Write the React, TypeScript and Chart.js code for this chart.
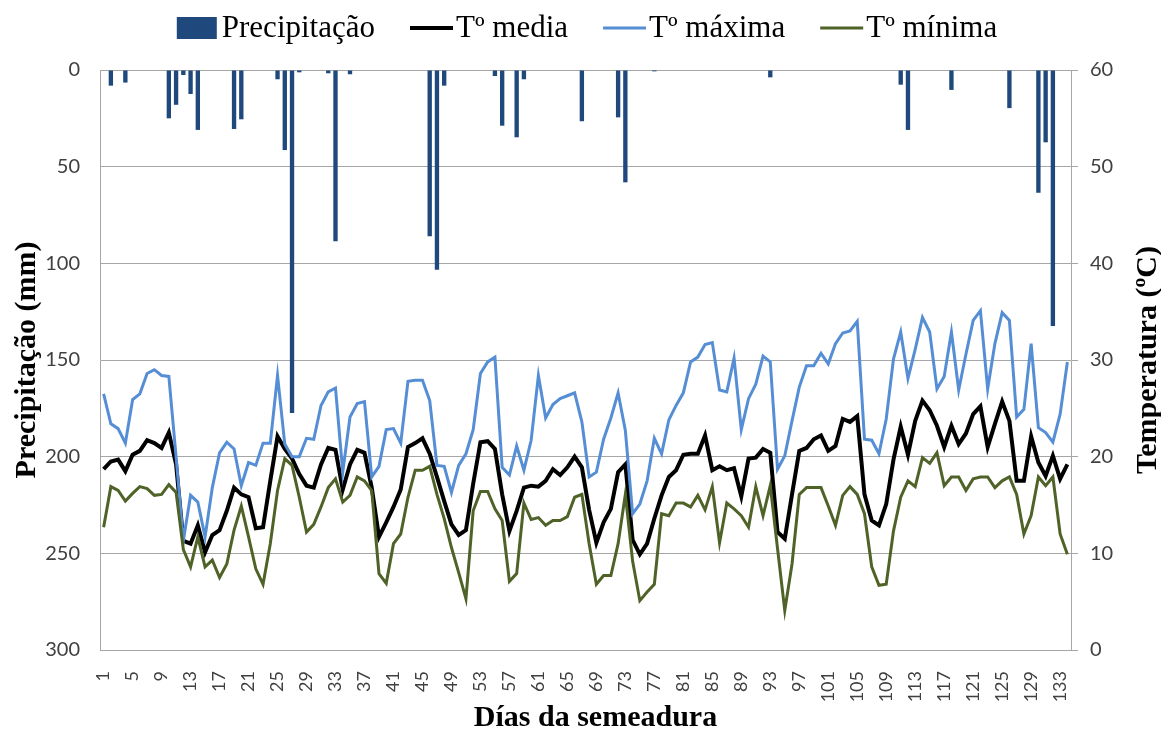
import React, { useEffect, useRef } from "react";
import { Chart, registerables } from "chart.js";

Chart.register(...registerables);

// Category labels: days after sowing (1..134)
const days: string[] = Array.from({ length: 134 }, (_, i) => String(i + 1));

// Precipitation (mm), one value per day
const precipitation: number[] = [
  0, 8.1, 0, 6.5, 0, 0, 0, 0, 0, 25,
  18, 2.6, 12.4, 31, 0, 0, 0, 0, 30.5, 25.5,
  0, 0, 0, 0, 4.8, 41.4, 177.4, 1.2, 0, 0,
  0, 1.7, 88.6, 0, 2.2, 0, 0, 0, 0, 0,
  0, 0, 0, 0, 0, 86, 103.3, 8.1, 0, 0,
  0, 0, 0, 0, 3.1, 28.8, 0, 34.8, 4.8, 0,
  0, 0, 0, 0, 0, 0, 26.5, 0, 0, 0,
  0, 24.5, 58.1, 0, 0, 0, 0.7, 0, 0, 0,
  0, 0, 0, 0, 0, 0, 0, 0, 0, 0,
  0, 0, 3.8, 0, 0, 0, 0, 0, 0, 0,
  0, 0, 0, 0, 0, 0, 0, 0, 0, 0,
  7.6, 31, 0, 0, 0, 0, 0, 10.3, 0, 0,
  0, 0, 0, 0, 0, 19.7, 0, 0, 0, 63.5,
  37.4, 132.4, 0, 0,
];

// Mean temperature (°C)
const tMedia: number[] = [
  18.7, 19.5, 19.7, 18.5, 20.2, 20.6, 21.7, 21.4, 20.9, 22.5,
  19.2, 11.3, 11.0, 12.9, 10.1, 11.9, 12.4, 14.4, 16.8, 16.1,
  15.8, 12.6, 12.7, 17.5, 22.1, 20.8, 19.8, 18.2, 17.0, 16.8,
  19.2, 20.9, 20.7, 16.6, 19.2, 20.7, 20.4, 16.8, 11.7, 13.2,
  14.8, 16.6, 21.0, 21.4, 21.9, 20.3, 17.9, 15.4, 13.0, 11.9,
  12.4, 17.2, 21.5, 21.6, 20.8, 16.1, 12.3, 14.4, 16.8, 17.0,
  16.9, 17.5, 18.7, 18.1, 18.9, 20.0, 18.9, 14.5, 11.1, 13.2,
  14.6, 18.4, 19.2, 11.4, 9.9, 11.0, 13.6, 16.0, 17.9, 18.6,
  20.2, 20.3, 20.3, 22.2, 18.6, 19.0, 18.6, 18.8, 15.9, 19.8,
  19.9, 20.8, 20.4, 12.2, 11.5, 16.1, 20.6, 20.9, 21.8, 22.2,
  20.6, 21.1, 23.9, 23.6, 24.2, 16.1, 13.4, 12.9, 15.1, 19.7,
  23.1, 20.2, 23.7, 25.8, 24.8, 23.2, 21.0, 23.2, 21.3, 22.4,
  24.4, 25.2, 21.0, 23.4, 25.7, 23.7, 17.5, 17.5, 22.1, 19.4,
  18.0, 20.1, 17.7, 19.2,
];

// Maximum temperature (°C)
const tMaxima: number[] = [
  26.5, 23.4, 22.9, 21.4, 25.9, 26.5, 28.6, 29.0, 28.4, 28.3,
  20.0, 11.3, 16.0, 15.3, 11.7, 16.8, 20.4, 21.5, 20.8, 17.0,
  19.4, 19.1, 21.4, 21.4, 28.4, 21.3, 20.0, 20.0, 21.9, 21.8,
  25.3, 26.7, 27.1, 18.4, 24.1, 25.5, 25.7, 17.9, 19.0, 22.8,
  22.9, 21.4, 27.8, 27.9, 27.9, 25.8, 19.1, 19.0, 16.3, 19.1,
  20.3, 22.8, 28.6, 29.8, 30.3, 18.9, 18.1, 21.1, 18.6, 21.7,
  28.4, 24.0, 25.4, 26.0, 26.3, 26.6, 23.6, 17.9, 18.4, 21.8,
  24.0, 26.6, 22.7, 14.1, 15.1, 17.5, 21.9, 20.3, 23.8, 25.3,
  26.6, 29.8, 30.3, 31.6, 31.8, 26.9, 26.7, 30.2, 22.8, 26.0,
  27.5, 30.4, 29.8, 18.7, 20.1, 23.7, 27.2, 29.4, 29.4, 30.7,
  29.6, 31.7, 32.8, 33.0, 34.0, 21.8, 21.7, 20.3, 23.9, 30.1,
  32.9, 28.1, 31.1, 34.4, 32.9, 27.0, 28.3, 32.9, 26.9, 30.6,
  34.1, 35.1, 27.0, 31.7, 34.9, 34.1, 24.1, 24.9, 31.7, 23.0,
  22.5, 21.5, 24.4, 29.8,
];

// Minimum temperature (°C)
const tMinima: number[] = [
  12.7, 16.9, 16.5, 15.4, 16.2, 16.9, 16.7, 16.0, 16.1, 17.1,
  16.3, 10.4, 8.6, 11.7, 8.6, 9.3, 7.5, 8.9, 12.4, 14.9,
  11.7, 8.4, 6.8, 11.0, 16.5, 19.8, 19.1, 15.8, 12.2, 13.0,
  14.8, 16.8, 17.7, 15.3, 16.0, 17.9, 17.5, 16.5, 7.9, 6.9,
  11.0, 12.0, 15.8, 18.6, 18.6, 19.0, 16.1, 13.6, 10.6, 8.0,
  5.3, 14.4, 16.4, 16.4, 14.6, 13.4, 7.1, 7.9, 15.2, 13.5,
  13.7, 12.9, 13.4, 13.4, 13.8, 15.8, 16.1, 11.0, 6.8, 7.7,
  7.7, 11.0, 16.1, 9.2, 5.1, 6.0, 6.8, 14.1, 13.9, 15.2,
  15.2, 14.8, 16.0, 14.5, 16.9, 11.1, 15.2, 14.6, 13.9, 12.7,
  16.9, 13.9, 17.0, 10.5, 4.1, 8.9, 16.1, 16.8, 16.8, 16.8,
  14.9, 12.9, 16.0, 16.9, 16.1, 14.1, 8.6, 6.7, 6.8, 12.3,
  15.8, 17.5, 16.9, 19.9, 19.3, 20.4, 17.0, 17.9, 17.9, 16.5,
  17.7, 17.9, 17.9, 16.8, 17.5, 17.9, 16.1, 12.0, 13.9, 17.9,
  17.0, 17.9, 12.0, 9.9,
];

const legendItems = [
  { kind: "box", color: "#1F497D", width: 0, text: "Precipitação" },
  { kind: "line", color: "#000000", width: 4, text: "Tº media" },
  { kind: "line", color: "#558ED5", width: 3, text: "Tº máxima" },
  { kind: "line", color: "#4F6228", width: 3, text: "Tº mínima" },
];

const titleLeft = "Precipitação (mm)";
const titleRight = "Temperatura (ºC)";
const titleBottom = "Días da semeadura";

const GRID = "#A6A6A6";
const TICK_COLOR = "#404040";

const overlayPlugin = {
  id: "overlay",
  afterDraw(chart: any) {
    const ctx: CanvasRenderingContext2D = chart.ctx;
    const area = chart.chartArea;
    const cx = (area.left + area.right) / 2;
    const cy = (area.top + area.bottom) / 2;
    ctx.save();
    // Legend
    ctx.font = '31px "Liberation Serif"';
    ctx.textBaseline = "middle";
    ctx.textAlign = "left";
    const markerW = 43;
    const markerGap = 3;
    const itemGap = 35;
    const widths = legendItems.map((it) => ctx.measureText(it.text).width);
    const total =
      widths.reduce((a, b) => a + b, 0) +
      legendItems.length * (markerW + markerGap) +
      (legendItems.length - 1) * itemGap;
    let x = cx + 1 - total / 2;
    const ly = 28;
    legendItems.forEach((it, i) => {
      if (it.kind === "box") {
        ctx.fillStyle = it.color;
        ctx.fillRect(x + 1, ly - 11, markerW - 3, 22);
      } else {
        ctx.strokeStyle = it.color;
        ctx.lineWidth = it.width;
        ctx.beginPath();
        ctx.moveTo(x, ly);
        ctx.lineTo(x + markerW, ly);
        ctx.stroke();
      }
      ctx.fillStyle = "#000000";
      ctx.fillText(it.text, x + markerW + markerGap, ly + 1);
      x += markerW + markerGap + widths[i] + itemGap;
    });

    // Axis titles
    ctx.font = 'bold 30px "Liberation Serif"';
    ctx.fillStyle = "#000000";
    ctx.textAlign = "center";
    ctx.textBaseline = "middle";

    ctx.save();
    ctx.translate(27, cy);
    ctx.rotate(-Math.PI / 2);
    ctx.fillText(titleLeft, 0, 0);
    ctx.restore();

    ctx.save();
    ctx.translate(1148, cy);
    ctx.rotate(-Math.PI / 2);
    ctx.fillText(titleRight, 0, 0);
    ctx.restore();

    ctx.fillText(titleBottom, cx + 10, 718);
    ctx.restore();
  },
};

export default function App() {
  const canvasRef = useRef<HTMLCanvasElement | null>(null);

  useEffect(() => {
    if (!canvasRef.current) return;
    const tickFont = { family: "Lato", size: 20 };
    const chart = new Chart(canvasRef.current, {
      type: "bar",
      data: {
        labels: days,
        datasets: [
          {
            type: "bar",
            label: "Precipitação",
            data: precipitation,
            backgroundColor: "#1F497D",
            borderWidth: 0,
            barPercentage: 0.6,
            categoryPercentage: 1,
            yAxisID: "y",
            order: 4,
          },
          {
            type: "line",
            label: "Tº media",
            data: tMedia,
            borderColor: "#000000",
            borderWidth: 4,
            pointRadius: 0,
            tension: 0,
            fill: false,
            yAxisID: "y1",
            order: 3,
          },
          {
            type: "line",
            label: "Tº máxima",
            data: tMaxima,
            borderColor: "#558ED5",
            borderWidth: 3,
            pointRadius: 0,
            tension: 0,
            fill: false,
            yAxisID: "y1",
            order: 2,
          },
          {
            type: "line",
            label: "Tº mínima",
            data: tMinima,
            borderColor: "#4F6228",
            borderWidth: 3,
            pointRadius: 0,
            tension: 0,
            fill: false,
            yAxisID: "y1",
            order: 1,
          },
        ] as any,
      },
      options: {
        responsive: false,
        animation: false,
        layout: { padding: { top: 70, left: 0, right: 0, bottom: 0 } },
        plugins: {
          legend: { display: false },
          tooltip: { enabled: false },
        },
        scales: {
          x: {
            type: "category",
            offset: true,
            grid: { display: false, drawTicks: false },
            border: { display: true, color: GRID, width: 1 },
            ticks: {
              autoSkip: false,
              minRotation: 90,
              maxRotation: 90,
              padding: 21,
              color: TICK_COLOR,
              font: { family: "Lato", size: 18 },
              callback: (_v: any, idx: number) => (idx % 4 === 0 ? days[idx] : ""),
            },
            afterFit: (s: any) => {
              s.height = 81;
            },
          },
          y: {
            type: "linear",
            position: "left",
            reverse: true,
            min: 0,
            max: 300,
            ticks: { stepSize: 50, padding: 20, color: TICK_COLOR, font: tickFont },
            grid: { color: GRID, lineWidth: 1, drawTicks: false },
            border: { display: true, color: GRID, width: 1 },
            afterFit: (s: any) => {
              s.width = 100;
            },
          },
          y1: {
            type: "linear",
            position: "right",
            min: 0,
            max: 60,
            ticks: { stepSize: 10, padding: 12, color: TICK_COLOR, font: tickFont },
            grid: { drawOnChartArea: false, color: GRID, tickLength: 7 },
            border: { display: true, color: GRID, width: 1 },
            afterFit: (s: any) => {
              s.width = 90;
            },
          },
        },
      } as any,
      plugins: [overlayPlugin],
    });
    let alive = true;
    if ((document as any).fonts && (document as any).fonts.load) {
      Promise.all([
        (document as any).fonts.load('31px "Liberation Serif"'),
        (document as any).fonts.load('bold 30px "Liberation Serif"'),
        (document as any).fonts.load('20px "Lato"'),
      ])
        .then(() => {
          if (alive) chart.update();
        })
        .catch(() => {});
    }
    return () => {
      alive = false;
      chart.destroy();
    };
  }, []);

  return (
    <div style={{ position: "absolute", left: 0, top: 0, width: 1161, height: 731, background: "#ffffff" }}>
      <canvas ref={canvasRef} width={1161} height={731} style={{ display: "block" }} />
    </div>
  );
}
